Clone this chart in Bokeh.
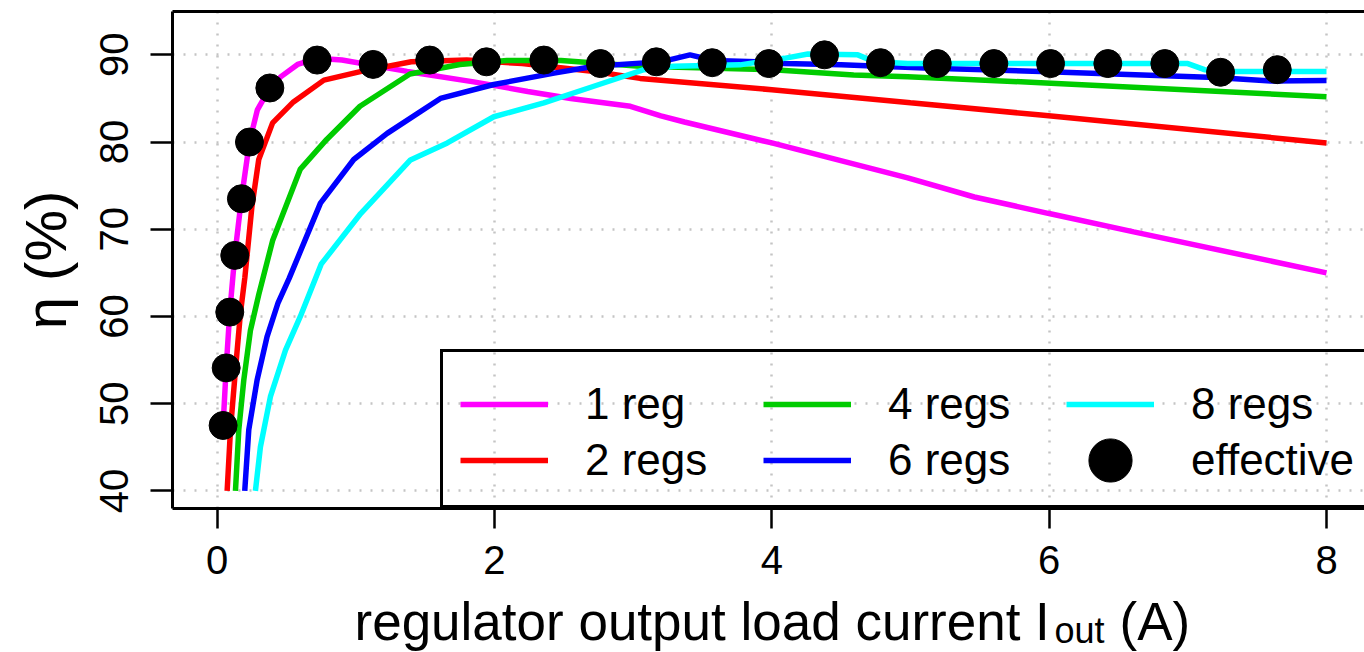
from bokeh.plotting import figure
from bokeh.layouts import column
from bokeh.models import Range1d, FixedTicker, LinearAxis, Legend, LegendItem, Label
from bokeh.embed import file_html
from bokeh.resources import INLINE

FONT = "Liberation Sans"

# ---------------- data ----------------
x_1reg = [0.043, 0.065, 0.091, 0.127, 0.175, 0.233, 0.29, 0.38, 0.46, 0.58, 0.72, 0.90,
          1.37, 1.85, 2.24, 2.55, 2.98, 3.20, 3.37, 4.00, 4.98, 5.46, 6.00, 6.61, 8.00]
y_1reg = [47.5, 54.1, 60.5, 67.0, 73.5, 80.0, 83.7, 86.2, 87.5, 88.9, 89.6, 89.4,
          88.1, 86.9, 85.8, 85.0, 84.1, 83.0, 82.3, 79.9, 75.9, 73.7, 71.8, 69.7, 65.0]

x_2regs = [0.072, 0.096, 0.132, 0.168, 0.20, 0.25, 0.30, 0.40, 0.55, 0.77, 1.04, 1.40,
           1.80, 2.20, 2.72, 3.05, 4.00, 5.00, 5.94, 8.00]
y_2regs = [40.0, 47.0, 53.9, 60.4, 64.5, 72.5, 78.0, 82.2, 84.6, 87.1, 88.1, 89.2,
           89.4, 89.0, 88.1, 87.3, 86.0, 84.5, 83.1, 79.9]

x_4regs = [0.132, 0.156, 0.192, 0.24, 0.30, 0.40, 0.60, 0.79, 1.03, 1.39, 1.75, 2.09,
           2.48, 3.05, 4.01, 4.59, 4.98, 5.94, 8.00]
y_4regs = [40.0, 47.0, 52.7, 58.4, 62.5, 68.7, 76.9, 80.3, 84.1, 87.8, 88.9, 89.35,
           89.35, 88.7, 88.3, 87.7, 87.5, 86.8, 85.2]

x_6regs = [0.199, 0.228, 0.288, 0.36, 0.44, 0.52, 0.745, 0.985, 1.226, 1.61, 1.995, 2.43,
           2.72, 3.05, 3.20, 3.41, 3.58, 3.89, 4.09, 4.50, 5.10, 5.94, 7.04, 7.20, 7.60, 8.00]
y_6regs = [40.0, 47.0, 52.7, 57.7, 61.6, 64.4, 73.0, 78.0, 81.0, 85.0, 86.6, 87.9,
           88.7, 89.05, 89.2, 90.0, 89.35, 89.2, 89.0, 88.85, 88.5, 88.1, 87.5, 87.4, 87.0, 87.05]

x_8regs = [0.276, 0.312, 0.384, 0.493, 0.60, 0.75, 1.035, 1.394, 1.66, 1.995, 2.356, 2.716,
           3.077, 3.29, 3.77, 4.09, 4.26, 4.62, 4.74, 4.98, 5.94, 7.00, 7.12, 7.33, 8.00]
y_8regs = [40.0, 45.05, 50.8, 56.15, 60.0, 66.0, 71.8, 77.95, 79.9, 82.9, 84.5, 86.4,
           88.3, 88.7, 88.85, 89.6, 90.1, 90.0, 89.2, 89.0, 89.0, 89.0, 88.3, 88.1, 88.1]

x_eff = [0.043, 0.065, 0.091, 0.127, 0.175, 0.233, 0.380, 0.721, 1.125, 1.533, 1.942, 2.356,
         2.764, 3.167, 3.570, 3.978, 4.380, 4.784, 5.193, 5.601, 6.010, 6.423, 6.834, 7.236, 7.645]
y_eff = [47.5, 54.1, 60.5, 67.0, 73.5, 80.0, 86.2, 89.4, 88.9, 89.4, 89.2, 89.4,
         89.0, 89.2, 89.1, 89.0, 90.0, 89.1, 89.0, 89.0, 89.0, 89.0, 89.0, 88.0, 88.3]

x_ticks = [0, 2, 4, 6, 8]
y_ticks = [40, 50, 60, 70, 80, 90]

series = [
    ("1 reg", x_1reg, y_1reg, "#ff00ff"),
    ("2 regs", x_2regs, y_2regs, "#ff0000"),
    ("4 regs", x_4regs, y_4regs, "#00cc00"),
    ("6 regs", x_6regs, y_6regs, "#0000ff"),
    ("8 regs", x_8regs, y_8regs, "#00ffff"),
]

# ---------------- main figure ----------------
p = figure(width=1364, height=590, output_backend="svg", toolbar_location=None,
           x_range=Range1d(-0.322, 8.274), y_range=Range1d(37.98, 94.97),
           min_border_left=172, min_border_right=0, min_border_top=11, min_border_bottom=82)
p.outline_line_color = None
p.background_fill_color = "white"
p.border_fill_color = "white"

for ax in (p.xaxis[0], p.yaxis[0]):
    ax.axis_line_width = 3
    ax.axis_line_color = "black"
    ax.major_tick_line_width = 2.5
    ax.major_tick_line_color = "black"
    ax.major_tick_in = 0
    ax.minor_tick_line_color = None
    ax.major_label_text_font = FONT
    ax.major_label_text_color = "black"

p.xaxis.ticker = FixedTicker(ticks=x_ticks)
p.yaxis.ticker = FixedTicker(ticks=y_ticks)
p.xaxis.major_tick_out = 20
p.yaxis.major_tick_out = 22
p.xaxis.major_label_text_font_size = "40px"
p.yaxis.major_label_text_font_size = "40px"
p.xaxis.major_label_standoff = 17
p.yaxis.major_label_standoff = 22
p.yaxis.major_label_orientation = "vertical"

p.yaxis.axis_label = "η (%)"
p.yaxis.axis_label_text_font = FONT
p.yaxis.axis_label_text_font_size = "58px"
p.yaxis.axis_label_text_font_style = "normal"
p.yaxis.axis_label_text_color = "black"
p.yaxis.axis_label_standoff = 20

top = LinearAxis(ticker=FixedTicker(ticks=[]), axis_line_width=3, axis_line_color="black",
                 major_tick_line_color=None, minor_tick_line_color=None,
                 major_label_text_font_size="0px")
p.add_layout(top, "above")

for g in (p.xgrid[0], p.ygrid[0]):
    g.grid_line_color = "#c4c4c4"
    g.grid_line_width = 2.5
    g.grid_line_dash = "2 9"
p.xgrid.ticker = FixedTicker(ticks=x_ticks)
p.ygrid.ticker = FixedTicker(ticks=y_ticks)

items = []
for name, xs, ys, col in series:
    r = p.line(xs, ys, line_color=col, line_width=5.5)
    items.append(LegendItem(label=name, renderers=[r]))

dots = p.ellipse(x_eff, y_eff, width=28, height=28, width_units="screen", height_units="screen",
                 fill_color="black", line_color="black")
items.append(LegendItem(label="effective", renderers=[dots]))

legend = Legend(items=items, location=(268, 0), orientation="vertical", nrows=2,
                title=" ", title_text_font_size="4px", title_standoff=2,
                glyph_width=88, glyph_height=54, label_standoff=37, label_width=178,
                label_height=56, padding=17, spacing=0, margin=0,
                label_text_font=FONT, label_text_font_size="44px", label_text_color="black",
                border_line_color="black", border_line_width=3, border_line_alpha=1,
                background_fill_alpha=0)
p.add_layout(legend, "center")

# ---------------- x axis title (with subscript) ----------------
t = figure(width=1364, height=62, output_backend="svg", toolbar_location=None,
           x_range=Range1d(0, 1), y_range=Range1d(0, 1),
           min_border_left=0, min_border_right=0, min_border_top=0, min_border_bottom=0)
t.outline_line_color = None
t.axis.visible = False
t.grid.visible = False
t.border_fill_color = "white"
t.background_fill_color = "white"

t.add_layout(Label(x=182, y=31, x_units="screen", y_units="screen",
                   text="regulator output load current I", text_font=FONT,
                   text_font_size="53px", text_color="black", text_baseline="middle"))
t.add_layout(Label(x=882, y=22, x_units="screen", y_units="screen",
                   text="out", text_font=FONT,
                   text_font_size="36px", text_color="black", text_baseline="middle"))
t.add_layout(Label(x=947, y=31, x_units="screen", y_units="screen",
                   text="(A)", text_font=FONT,
                   text_font_size="53px", text_color="black", text_baseline="middle"))

layout = column(p, t, spacing=0)
open("out.html", "w").write(file_html(layout, INLINE))
